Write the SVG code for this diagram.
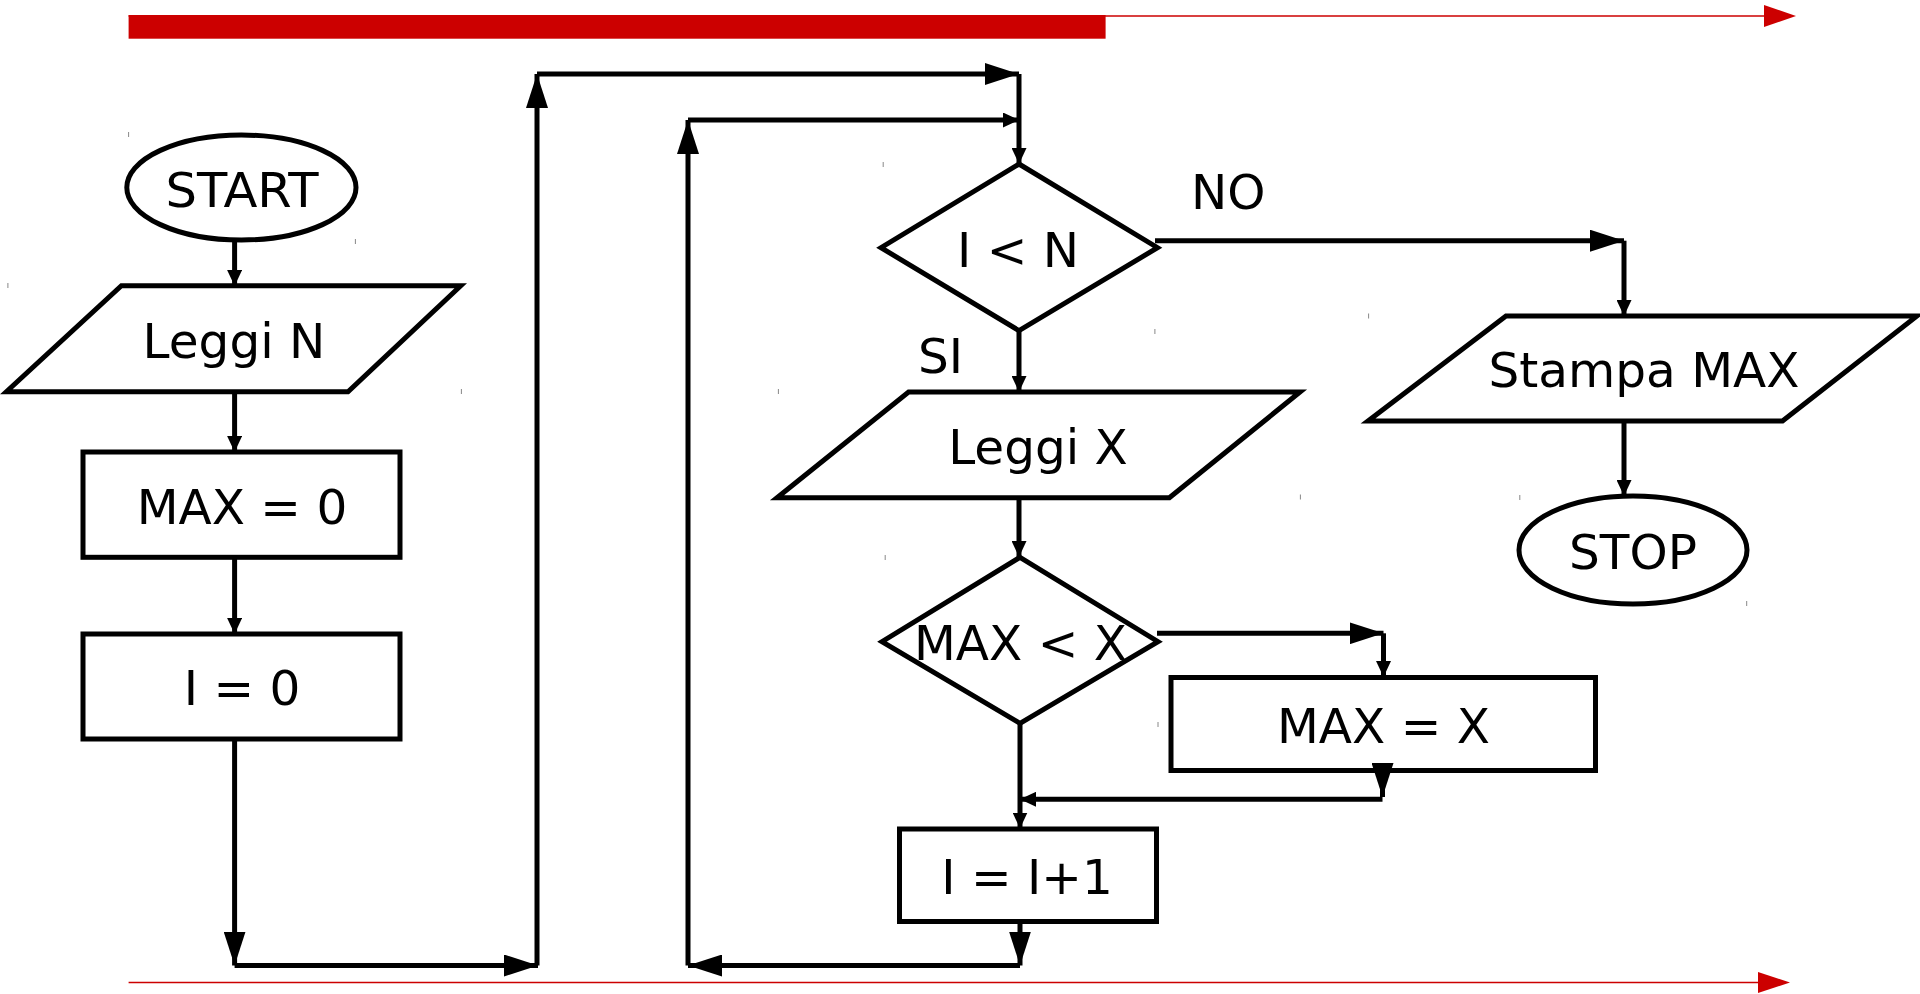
<svg xmlns="http://www.w3.org/2000/svg" width="1920" height="994" viewBox="0 0 1920 994">
<style>
.shape{fill:none;stroke:#000;stroke-width:5}
.con{fill:none;stroke:#000;stroke-width:5}
.cs{marker-end:url(#as)}
.cb{marker-end:url(#ab)}
.t{font-family:"DejaVu Sans",sans-serif;font-size:48.5px;fill:#000;text-anchor:middle}
.lbl{font-family:"DejaVu Sans",sans-serif;font-size:48.5px;fill:#000}
.tick{stroke:#888;stroke-width:1}
</style>
<defs>
<marker id="as" markerUnits="userSpaceOnUse" markerWidth="16" markerHeight="15" refX="16" refY="7.5" orient="auto"><path d="M0,0 L16,7.5 L0,15 z" fill="#000"/></marker>
<marker id="ab" markerUnits="userSpaceOnUse" markerWidth="34" markerHeight="22" refX="34" refY="11" orient="auto"><path d="M0,0 L34,11 L0,22 z" fill="#000"/></marker>
</defs>
<rect width="1920" height="994" fill="#fff"/>
<g id="timeline">
<line x1="128.6" y1="16" x2="1770" y2="16" stroke="#cc0000" stroke-width="1.5"/>
<rect x="128.6" y="15" width="977" height="23.7" fill="#cc0000"/>
<polygon points="1764,5 1796,16 1764,27" fill="#cc0000"/>
<line x1="128.6" y1="982.5" x2="1765" y2="982.5" stroke="#cc0000" stroke-width="1.3"/>
<polygon points="1758,972 1790,982.5 1758,993" fill="#cc0000"/>
</g>
<g id="connectors">
<line class="con cs" x1="234.6" y1="240" x2="234.6" y2="286"/>
<line class="con cs" x1="234.6" y1="392" x2="234.6" y2="452"/>
<line class="con cs" x1="234.6" y1="557" x2="234.6" y2="634"/>
<line class="con cb" x1="234.6" y1="739" x2="234.6" y2="965.5"/>
<line class="con cb" x1="234.6" y1="965.5" x2="538" y2="965.5"/>
<line class="con cb" x1="537" y1="965.5" x2="537" y2="74"/>
<line class="con cb" x1="537" y1="74" x2="1019" y2="74"/>
<line class="con cs" x1="1019" y1="74" x2="1019" y2="164"/>
<line class="con cs" x1="688" y1="120" x2="1019" y2="120"/>
<line class="con cb" x1="1020" y1="922" x2="1020" y2="965.5"/>
<line class="con cb" x1="1020" y1="965.5" x2="688" y2="965.5"/>
<line class="con cb" x1="688" y1="965.5" x2="688" y2="120"/>
<line class="con cb" x1="1155" y1="240.7" x2="1624" y2="240.7"/>
<line class="con cs" x1="1624" y1="240.7" x2="1624" y2="316"/>
<line class="con cs" x1="1624" y1="421" x2="1624" y2="496"/>
<line class="con cs" x1="1019" y1="330" x2="1019" y2="392"/>
<line class="con cs" x1="1019" y1="498" x2="1019" y2="557"/>
<line class="con cb" x1="1157" y1="633.3" x2="1383.5" y2="633.3"/>
<line class="con cs" x1="1383.5" y1="633.3" x2="1383.5" y2="677"/>
<line class="con cb" x1="1382.5" y1="770" x2="1382.5" y2="797"/>
<line class="con cs" x1="1382.5" y1="799.3" x2="1020" y2="799.3"/>
<line class="con cs" x1="1020" y1="723" x2="1020" y2="828.5"/>
</g>
<g id="start">
<ellipse class="shape" cx="241.4" cy="187.5" rx="114.6" ry="52.5"/>
<text class="t" x="242" y="207" textLength="153" lengthAdjust="spacingAndGlyphs">START</text>
</g>
<g id="leggiN">
<polygon class="shape" points="121.4,285.7 460.7,285.7 348,391.7 6.4,391.7"/>
<text class="t" x="234" y="357.7">Leggi N</text>
</g>
<g id="max0">
<rect class="shape" x="83" y="452" width="317" height="105.3"/>
<text class="t" x="242" y="524">MAX = 0</text>
</g>
<g id="i0">
<rect class="shape" x="83" y="634" width="317" height="105"/>
<text class="t" x="242" y="705">I = 0</text>
</g>
<g id="cond1">
<polygon class="shape" points="1019,164 1157.5,247.7 1019,330.6 881,247.7"/>
<text class="t" x="1018" y="266.7">I &lt; N</text>
</g>
<g id="labels">
<text class="lbl" x="1191" y="209.4">NO</text>
<text class="lbl" x="918" y="373.3">SI</text>
</g>
<g id="leggiX">
<polygon class="shape" points="908.6,392 1300,392 1169.4,497.7 777,497.7"/>
<text class="t" x="1038" y="464">Leggi X</text>
</g>
<g id="cond2">
<polygon class="shape" points="1020,557.3 1158,641.7 1020,723.3 882,641.7"/>
<text class="t" x="1020.5" y="660">MAX &lt; X</text>
</g>
<g id="maxX">
<rect class="shape" x="1171" y="677.5" width="424.5" height="93"/>
<text class="t" x="1383.5" y="743.3">MAX = X</text>
</g>
<g id="incr">
<rect class="shape" x="899.5" y="829" width="257" height="92.5"/>
<text class="t" x="1027" y="894">I = I+1</text>
</g>
<g id="stampa">
<polygon class="shape" points="1506,316 1917,316 1782.5,421 1368,421"/>
<text class="t" x="1644" y="387">Stampa MAX</text>
</g>
<g id="stop">
<ellipse class="shape" cx="1633" cy="550" rx="114" ry="54"/>
<text class="t" x="1633" y="569">STOP</text>
</g>
<g id="ticks">
<line class="tick" x1="128.6" y1="132" x2="128.6" y2="137"/>
<line class="tick" x1="355.4" y1="239" x2="355.4" y2="244"/>
<line class="tick" x1="7.9" y1="283" x2="7.9" y2="288"/>
<line class="tick" x1="461.4" y1="389" x2="461.4" y2="394"/>
<line class="tick" x1="883.2" y1="162" x2="883.2" y2="167"/>
<line class="tick" x1="1154.9" y1="329" x2="1154.9" y2="334"/>
<line class="tick" x1="778.4" y1="389" x2="778.4" y2="394"/>
<line class="tick" x1="1300.4" y1="494.5" x2="1300.4" y2="499.5"/>
<line class="tick" x1="885.2" y1="555" x2="885.2" y2="560"/>
<line class="tick" x1="1158" y1="722" x2="1158" y2="727"/>
<line class="tick" x1="1368.6" y1="313.5" x2="1368.6" y2="318.5"/>
<line class="tick" x1="1519.8" y1="495" x2="1519.8" y2="500"/>
<line class="tick" x1="1746.7" y1="601" x2="1746.7" y2="606"/>
</g>
</svg>
